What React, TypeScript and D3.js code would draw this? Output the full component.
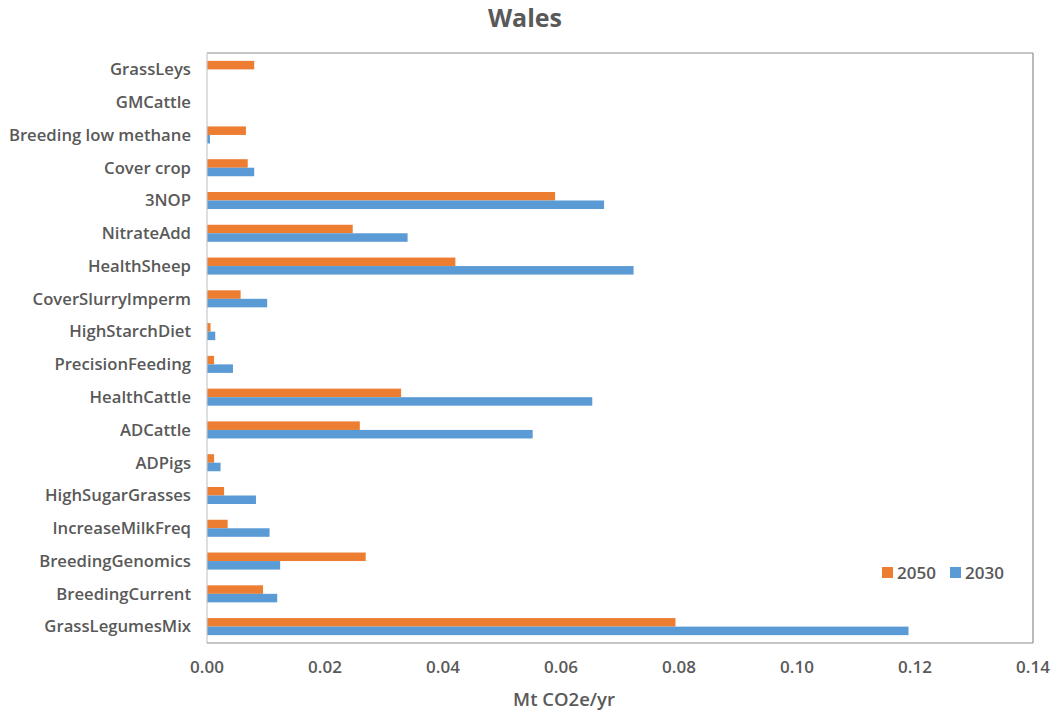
import React from "react";
import * as d3 from "d3";

const categories = [
  "GrassLeys",
  "GMCattle",
  "Breeding low methane",
  "Cover crop",
  "3NOP",
  "NitrateAdd",
  "HealthSheep",
  "CoverSlurryImperm",
  "HighStarchDiet",
  "PrecisionFeeding",
  "HealthCattle",
  "ADCattle",
  "ADPigs",
  "HighSugarGrasses",
  "IncreaseMilkFreq",
  "BreedingGenomics",
  "BreedingCurrent",
  "GrassLegumesMix",
];

const values2050 = [
  0.0080, 0, 0.0066, 0.0069, 0.0590, 0.0247, 0.0421, 0.0057, 0.0006,
  0.0012, 0.0329, 0.0259, 0.0012, 0.0029, 0.0035, 0.0269, 0.0095, 0.0794,
];

const values2030 = [
  0, 0, 0.0005, 0.0080, 0.0673, 0.0340, 0.0723, 0.0102, 0.0014,
  0.0044, 0.0653, 0.0552, 0.0023, 0.0083, 0.0106, 0.0124, 0.0119, 0.1189,
];

const xTicks = [0, 0.02, 0.04, 0.06, 0.08, 0.1, 0.12, 0.14];
const seriesNames = ["2050", "2030"];
const seriesColors = ["#ED7D31", "#5B9BD5"];

const W = 1053;
const H = 717;
const M = { left: 207, right: 1033, top: 53, bottom: 643 };
const FONT = "'Open Sans', sans-serif";
const TEXT = "#595959";

export default function App() {
  const x = d3.scaleLinear().domain([0, 0.14]).range([M.left, M.right]);
  const y = d3
    .scaleBand<string>()
    .domain(categories)
    .range([M.top, M.bottom])
    .paddingInner(0.48)
    .paddingOuter(0.24);
  const sub = d3
    .scaleBand<string>()
    .domain(seriesNames)
    .range([0, y.bandwidth()]);
  const series = [values2050, values2030];

  return (
    <svg
      width={W}
      height={H}
      style={{ position: "absolute", left: 0, top: 0, background: "#fff" }}
      fontFamily={FONT}
    >
      <rect x={0} y={0} width={W} height={H} fill="#fff" />
      <text x={525} y={27} textAnchor="middle" fontSize={25} fontWeight={700} fill={TEXT}>
        Wales
      </text>

      {/* frame */}
      <line x1={M.left} x2={M.right} y1={M.top} y2={M.top} stroke="#8c8c8c" strokeWidth={1.2} />
      <line x1={M.right} x2={M.right} y1={M.top} y2={M.bottom} stroke="#8c8c8c" strokeWidth={1.2} />

      {/* bars */}
      {categories.map((c, i) => (
        <g key={c}>
          {series.map((vals, s) =>
            vals[i] > 0 ? (
              <rect
                key={s}
                x={x(0)}
                y={(y(c) as number) + (sub(seriesNames[s]) as number)}
                width={x(vals[i]) - x(0)}
                height={sub.bandwidth()}
                fill={seriesColors[s]}
              />
            ) : null
          )}
        </g>
      ))}

      <line x1={M.left} x2={M.left} y1={M.top} y2={M.bottom} stroke="#c8c8c8" strokeWidth={1.2} />
      <line x1={M.left} x2={M.right} y1={M.bottom} y2={M.bottom} stroke="#8c8c8c" strokeWidth={1.2} />

      {/* category labels */}
      {categories.map((c) => (
        <text
          key={c}
          x={M.left - 16}
          y={(y(c) as number) + y.bandwidth() / 2}
          dy="0.35em"
          textAnchor="end"
          fontSize={16.7}
          fontWeight={600}
          fill={TEXT}
        >
          {c}
        </text>
      ))}

      {/* x tick labels */}
      {xTicks.map((t) => (
        <text key={t} x={x(t)} y={673} textAnchor="middle" fontSize={17} fontWeight={600} fill={TEXT}>
          {d3.format(".2f")(t)}
        </text>
      ))}

      <text x={564} y={706} textAnchor="middle" fontSize={18.5} fontWeight={600} fill={TEXT}>
        Mt CO2e/yr
      </text>

      {/* legend */}
      {seriesNames.map((n, s) => (
        <g key={n} transform={`translate(${882 + s * 68},567)`}>
          <rect x={0} y={0} width={11} height={11} fill={seriesColors[s]} />
          <text x={15} y={5.5} dy="0.36em" fontSize={17} fontWeight={600} fill={TEXT}>
            {n}
          </text>
        </g>
      ))}
    </svg>
  );
}
